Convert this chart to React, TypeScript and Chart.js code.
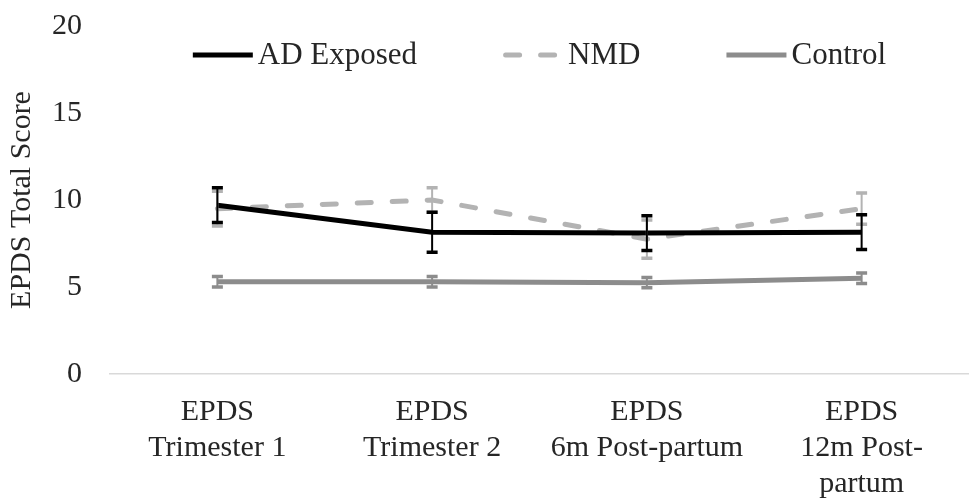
import React, { useEffect, useRef } from "react";
import { Chart, registerables } from "chart.js";

Chart.register(...registerables);

const categories: string[][] = [
  ["EPDS", "Trimester 1"],
  ["EPDS", "Trimester 2"],
  ["EPDS", "6m Post-partum"],
  ["EPDS", "12m Post-", "partum"],
];
const seriesNames = ["AD Exposed", "NMD", "Control"];
const adExposed = [9.7, 8.15, 8.1, 8.15];
const adExposedErr = [1.0, 1.15, 1.0, 1.0];
const nmd = [9.5, 10.0, 7.75, 9.5];
const nmdErr = [1.0, 0.7, 1.1, 0.9];
const control = [5.3, 5.3, 5.25, 5.5];
const controlErr = [0.3, 0.3, 0.3, 0.3];
const yTicks = [0, 5, 10, 15, 20];

const FONT = "'Liberation Serif', 'Times New Roman', serif";
const TEXT = "#262626";

const errorBarPlugin = {
  id: "errorBars",
  afterDatasetsDraw(chart: any) {
    const { ctx } = chart;
    const yScale = chart.scales.y;
    const n = chart.data.datasets.length;
    for (let d = n - 1; d >= 0; d--) {
      const ds: any = chart.data.datasets[d];
      const meta = chart.getDatasetMeta(d);
      const errs: number[] = ds.errors || [];
      ctx.save();
      ctx.strokeStyle = ds.borderColor;
      meta.data.forEach((el: any, i: number) => {
        const v = ds.data[i];
        const e = errs[i] || 0;
        const x = el.x;
        const yt = yScale.getPixelForValue(v + e);
        const yb = yScale.getPixelForValue(v - e);
        ctx.lineWidth = 2;
        ctx.beginPath();
        ctx.moveTo(x, yt);
        ctx.lineTo(x, yb);
        ctx.stroke();
        ctx.lineWidth = 3.5;
        ctx.beginPath();
        ctx.moveTo(x - 5.5, yt);
        ctx.lineTo(x + 5.5, yt);
        ctx.moveTo(x - 5.5, yb);
        ctx.lineTo(x + 5.5, yb);
        ctx.stroke();
      });
      ctx.restore();
    }
  },
};

const legendPlugin = {
  id: "customLegend",
  afterDraw(chart: any) {
    const { ctx, chartArea } = chart;
    const lineLen = 60;
    const textGap = 5;
    const itemGap = 86;
    const y = 55;
    ctx.save();
    ctx.font = `31px ${FONT}`;
    const dsets = chart.data.datasets;
    const widths = dsets.map((ds: any) => lineLen + textGap + ctx.measureText(ds.label).width);
    const total = widths.reduce((a: number, b: number) => a + b, 0) + itemGap * (dsets.length - 1);
    let x = (chartArea.left + chartArea.right) / 2 - total / 2;
    dsets.forEach((ds: any, i: number) => {
      ctx.strokeStyle = ds.borderColor;
      ctx.lineWidth = ds.borderWidth;
      ctx.lineCap = ds.borderCapStyle || "butt";
      ctx.setLineDash(ds.borderDash || []);
      ctx.beginPath();
      const inset = ds.borderCapStyle === "round" ? ds.borderWidth / 2 : 0;
      ctx.moveTo(x + inset, y);
      ctx.lineTo(x + lineLen - inset, y);
      ctx.stroke();
      ctx.setLineDash([]);
      ctx.fillStyle = TEXT;
      ctx.textBaseline = "middle";
      ctx.textAlign = "left";
      ctx.fillText(ds.label, x + lineLen + textGap, y + 1);
      x += widths[i] + itemGap;
    });
    ctx.restore();
  },
};

export default function App() {
  const ref = useRef<HTMLCanvasElement | null>(null);
  useEffect(() => {
    if (!ref.current) return;
    const chart = new Chart(ref.current, {
      type: "line",
      data: {
        labels: categories as any,
        datasets: [
          {
            label: seriesNames[0],
            data: adExposed,
            errors: adExposedErr,
            borderColor: "#000000",
            backgroundColor: "#000000",
            borderWidth: 5,
            pointRadius: 0,
            tension: 0,
          } as any,
          {
            label: seriesNames[1],
            data: nmd,
            errors: nmdErr,
            borderColor: "#b3b3b3",
            backgroundColor: "#b3b3b3",
            borderWidth: 5,
            borderDash: [14, 21],
            borderCapStyle: "round",
            pointRadius: 0,
            tension: 0,
          } as any,
          {
            label: seriesNames[2],
            data: control,
            errors: controlErr,
            borderColor: "#8c8c8c",
            backgroundColor: "#8c8c8c",
            borderWidth: 5,
            pointRadius: 0,
            tension: 0,
          } as any,
        ],
      },
      options: {
        animation: false,
        responsive: false,
        layout: { padding: { top: 26, left: 0, right: 0, bottom: 0 } },
        plugins: {
          legend: { display: false },
          tooltip: { enabled: false },
        },
        scales: {
          x: {
            offset: true,
            grid: { display: false, drawTicks: false, tickLength: 0 },
            border: { display: true, color: "#d9d9d9", width: 1.5 },
            ticks: {
              font: { family: FONT, size: 30 },
              color: TEXT,
              padding: 20,
              maxRotation: 0,
              autoSkip: false,
            },
            afterFit: (scale: any) => {
              scale.height = 125;
              scale.paddingLeft = 0;
              scale.paddingRight = 0;
            },
          },
          y: {
            min: 0,
            max: 20,
            afterBuildTicks: (scale: any) => {
              scale.ticks = yTicks.map((v) => ({ value: v }));
            },
            grid: { display: false, drawTicks: false },
            border: { display: false },
            ticks: {
              font: { family: FONT, size: 30 },
              color: TEXT,
              padding: 28,
            },
            title: {
              display: true,
              text: "EPDS Total Score",
              font: { family: FONT, size: 30 },
              color: TEXT,
              padding: { top: 4, bottom: 0 },
            },
            afterFit: (scale: any) => {
              scale.width = 110;
              scale.paddingTop = 0;
              scale.paddingBottom = 0;
            },
          },
        },
      } as any,
      plugins: [errorBarPlugin, legendPlugin],
    });
    return () => chart.destroy();
  }, []);
  return (
    <div style={{ position: "absolute", left: 0, top: 0, width: 969, height: 499, background: "#fff" }}>
      <canvas ref={ref} width={969} height={499} style={{ display: "block" }} />
    </div>
  );
}
